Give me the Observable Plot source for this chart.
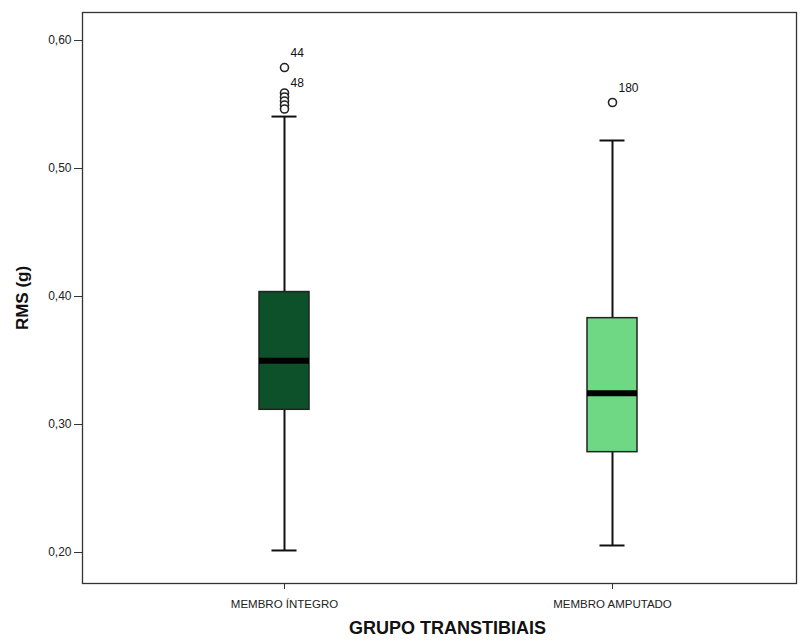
<!DOCTYPE html>
<html>
<head>
<meta charset="utf-8">
<script src="https://cdn.jsdelivr.net/npm/d3@7"></script>
<script src="https://cdn.jsdelivr.net/npm/@observablehq/plot@0.6"></script>
<style>
  body { margin: 0; background: #fff; }
  svg { font-family: "Liberation Sans", Arial, sans-serif; }
</style>
</head>
<body>
<div id="chart"></div>
<script>
const groups = ["MEMBRO ÍNTEGRO", "MEMBRO AMPUTADO"];
const whiskerLow = [0.2016, 0.2055];
const q1 = [0.3115, 0.2784];
const median = [0.3498, 0.3245];
const q3 = [0.4035, 0.3831];
const whiskerHigh = [0.5406, 0.5219];
const outlierGroup = ["MEMBRO ÍNTEGRO", "MEMBRO ÍNTEGRO", "MEMBRO ÍNTEGRO", "MEMBRO ÍNTEGRO", "MEMBRO ÍNTEGRO", "MEMBRO ÍNTEGRO", "MEMBRO AMPUTADO"];
const outlierValue = [0.5789, 0.5590, 0.5559, 0.5527, 0.5496, 0.5465, 0.5516];
const outlierLabel = ["44", "48", "", "", "", "", "180"];
const yTicks = [0.2, 0.3, 0.4, 0.5, 0.6];
const boxColors = ["#0c5129", "#6ed884"];

const stats = groups.map((g, i) => ({
  group: g, low: whiskerLow[i], q1: q1[i], median: median[i], q3: q3[i], high: whiskerHigh[i]
}));
const outliers = outlierGroup.map((g, i) => ({group: g, value: outlierValue[i], label: outlierLabel[i]}));

const fmt = v => v.toFixed(2).replace(".", ",");

const chart = Plot.plot({
  width: 801,
  height: 642,
  marginLeft: 82,
  marginRight: 5,
  marginTop: 12,
  marginBottom: 59,
  style: {fontFamily: "'Liberation Sans', Arial, sans-serif", background: "#fff"},
  x: {type: "band", domain: groups, range: [258, 637], paddingInner: 0.848, paddingOuter: 0, align: 0.5},
  y: {domain: [0.1758, 0.6219]},
  color: {domain: groups, range: boxColors},
  marks: [
    Plot.frame({stroke: "#333", strokeWidth: 1.3}),
    // whiskers
    Plot.ruleX(stats, {x: "group", y1: "low", y2: "q1", stroke: "#111", strokeWidth: 2}),
    Plot.ruleX(stats, {x: "group", y1: "q3", y2: "high", stroke: "#111", strokeWidth: 2}),
    Plot.tickY(stats, {x: "group", y: "low", stroke: "#111", strokeWidth: 2, insetLeft: 12.5, insetRight: 12.5}),
    Plot.tickY(stats, {x: "group", y: "high", stroke: "#111", strokeWidth: 2, insetLeft: 12.5, insetRight: 12.5}),
    // boxes
    Plot.barY(stats, {x: "group", y1: "q1", y2: "q3", fill: "group", stroke: "#222", strokeWidth: 1.5}),
    Plot.tickY(stats, {x: "group", y: "median", stroke: "#000", strokeWidth: 6}),
    // outliers
    Plot.dot(outliers, {x: "group", y: "value", r: 4, stroke: "#222", strokeWidth: 1.6, fill: "#fff"}),
    Plot.text(outliers.filter(d => d.label !== "48"), {x: "group", y: "value", text: "label", dx: 6, dy: -14, textAnchor: "start", fontSize: 12, fill: "#111"}),
    Plot.text(outliers.filter(d => d.label === "48"), {x: "group", y: "value", text: "label", dx: 6, dy: -10, textAnchor: "start", fontSize: 12, fill: "#111"}),
    // axes
    Plot.axisY({ticks: yTicks, tickFormat: fmt, tickSize: 8, tickPadding: 3, fontSize: 12, letterSpacing: 1, label: null, stroke: "#333", color: "#222"}),
    Plot.axisX({tickSize: 6, tickPadding: 10, fontSize: 11.5, letterSpacing: 0.9, label: null, stroke: "#333", color: "#222"}),
    Plot.text(["GRUPO TRANSTIBIAIS"], {frameAnchor: "bottom", dx: 8, dy: 50, fontWeight: "bold", fontSize: 18, letterSpacing: 2, fill: "#111"}),
    Plot.text(["RMS (g)"], {frameAnchor: "left", dx: -60, textAnchor: "middle", rotate: -90, fontWeight: "bold", fontSize: 17, letterSpacing: 1.5, fill: "#111"})
  ]
});
document.getElementById("chart").appendChild(chart);
</script>
</body>
</html>
